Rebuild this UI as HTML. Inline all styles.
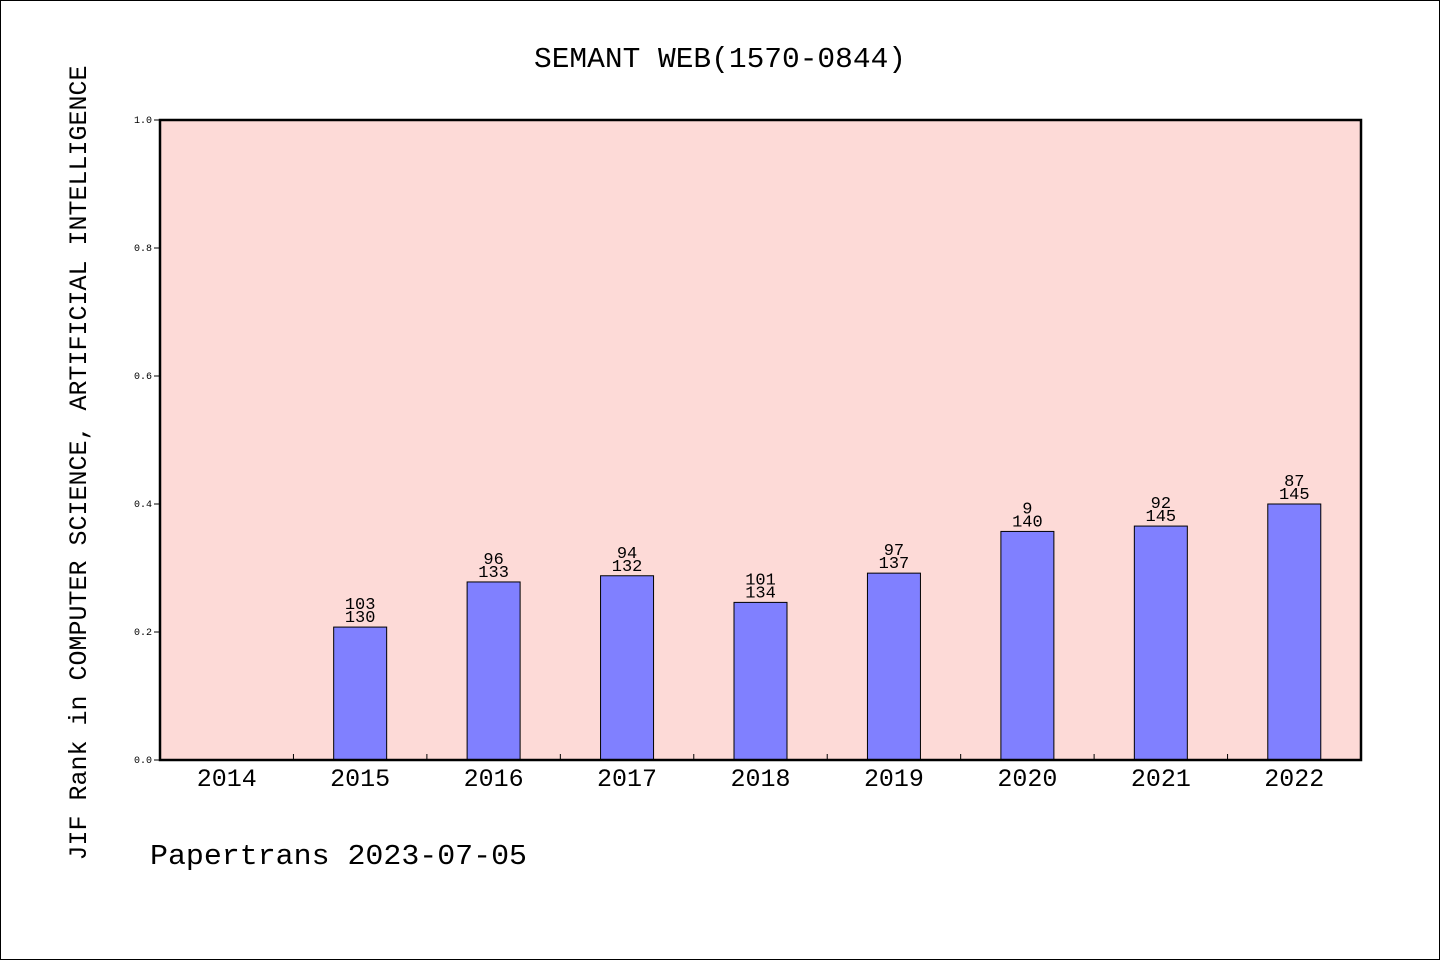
<!DOCTYPE html>
<html><head><meta charset="utf-8"><style>
html,body{margin:0;padding:0;background:#fff;}
svg{display:block;}
text{font-family:"Liberation Mono","DejaVu Sans Mono",monospace;fill:#000;}
</style></head><body>
<svg id="chart" width="1440" height="960" xmlns="http://www.w3.org/2000/svg">
<rect x="0.5" y="0.5" width="1439" height="959" fill="#fff" stroke="#000"/>
<text x="720" y="67" text-anchor="middle" font-size="29" textLength="372" lengthAdjust="spacingAndGlyphs">SEMANT WEB(1570-0844)</text>
<rect x="160" y="120" width="1201" height="640" fill="#fddad7"/>
<g id="bars"></g>
<g id="yaxis"></g>
<g id="xaxis"></g>
<rect x="160" y="120" width="1201" height="640" fill="none" stroke="#000" stroke-width="2.5"/>
<text transform="translate(86,463) rotate(-90)" text-anchor="middle" font-size="25" textLength="795" lengthAdjust="spacingAndGlyphs">JIF Rank in COMPUTER SCIENCE, ARTIFICIAL INTELLIGENCE</text>
<text x="150" y="864" font-size="29" textLength="377" lengthAdjust="spacingAndGlyphs">Papertrans 2023-07-05</text>
</svg>
<script>
const categories = ["2014","2015","2016","2017","2018","2019","2020","2021","2022"];
const ranks = [null,103,96,94,101,97,90,92,87];
const totals = [null,130,133,132,134,137,140,145,145];
const rankLabels = ["","103","96","94","101","97","9","92","87"];
const yTicks = [0.0,0.2,0.4,0.6,0.8,1.0];
const NS="http://www.w3.org/2000/svg";
const X0=160,X1=1361,Y0=760,Y1=120;
const slot=(X1-X0)/categories.length;
const xc=i=>X0+slot*(i+0.5);
const y=v=>Y0-(v-0)/(1-0)*(Y0-Y1);
function mk(tag,attrs,parent,txt){const e=document.createElementNS(NS,tag);for(const k in attrs)e.setAttribute(k,attrs[k]);if(txt!=null)e.textContent=txt;parent.appendChild(e);return e;}
const gb=document.getElementById('bars'),gy=document.getElementById('yaxis'),gx=document.getElementById('xaxis');
categories.forEach((c,i)=>{
  if(ranks[i]==null)return;
  const v=(totals[i]-ranks[i])/totals[i];
  const top=y(v),bw=53;
  const r=mk('rect',{x:xc(i)-bw/2,y:top,width:bw,height:Y0-top,fill:'#8080ff',stroke:'#000','stroke-width':1},gb);
  
  
  const t1=mk('text',{x:xc(i),y:top-18,'text-anchor':'middle','font-size':17},gb,rankLabels[i]);
  
  
  const t2=mk('text',{x:xc(i),y:top-5,'text-anchor':'middle','font-size':17},gb,String(totals[i]));
  
  
});
yTicks.forEach(v=>{
  const l=mk('line',{x1:X0-6,x2:X0,y1:y(v),y2:y(v),stroke:'#000','stroke-width':1},gy);
  
  
  const t=mk('text',{x:X0-8,y:y(v)+3,'text-anchor':'end','font-size':10},gy,v.toFixed(1));
  
  
});
categories.forEach((c,i)=>{
  if(i>0){const l=mk('line',{x1:X0+slot*i,x2:X0+slot*i,y1:Y0,y2:Y0-6,stroke:'#000','stroke-width':1},gx);
  
  }
  const t=mk('text',{x:xc(i),y:786,'text-anchor':'middle','font-size':25,textLength:60,lengthAdjust:'spacingAndGlyphs'},gx,c);
  
  
});
</script>
</body></html>
